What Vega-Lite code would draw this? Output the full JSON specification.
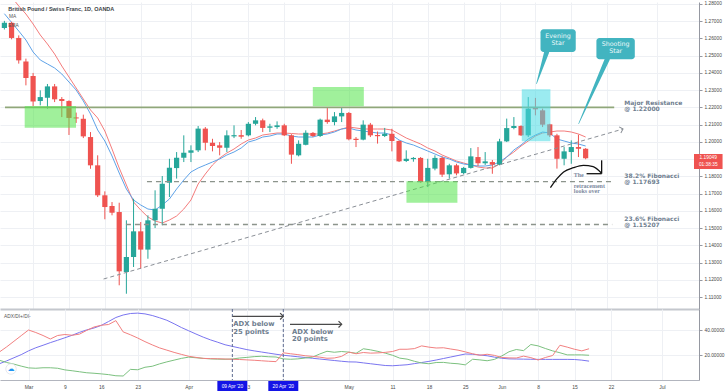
{
"$schema": "https://vega.github.io/schema/vega-lite/v6.json",
"padding": 0,
"background": "white",
"spacing": 0,
"bounds": "flush",
"config": {"view": {"stroke": null}, "font": "Liberation Sans", "axis": {"labelOverlap": false, "labelFlush": false, "labelBound": false}},
"datasets": {
"candles": [
{"d":-4,"o":1.2661,"h":1.2702,"l":1.2652,"c":1.2691,"ma":1.28928,"ema":1.27437,"adx":13.0,"dip":15.8,"dim":22.4},
{"d":-3,"o":1.2691,"h":1.2697,"l":1.2595,"c":1.2603,"ma":1.28406,"ema":1.26932,"adx":15.3,"dip":14.0,"dim":26.5},
{"d":-2,"o":1.2603,"h":1.2618,"l":1.2454,"c":1.2473,"ma":1.27884,"ema":1.26433,"adx":17.8,"dip":12.7,"dim":31.0},
{"d":-1,"o":1.2467,"h":1.2483,"l":1.2328,"c":1.2371,"ma":1.2742,"ema":1.25911,"adx":20.3,"dip":11.1,"dim":35.5},
{"d":0,"o":1.2382,"h":1.24,"l":1.2208,"c":1.2235,"ma":1.2684,"ema":1.25215,"adx":23.3,"dip":9.7,"dim":40.0},
{"d":1,"o":1.2237,"h":1.2299,"l":1.2212,"c":1.226,"ma":1.26201,"ema":1.24751,"adx":25.8,"dip":9.4,"dim":38.0},
{"d":2,"o":1.2256,"h":1.2336,"l":1.2193,"c":1.2322,"ma":1.25679,"ema":1.24519,"adx":27.8,"dip":9.8,"dim":35.6},
{"d":3,"o":1.2322,"h":1.2336,"l":1.2231,"c":1.2247,"ma":1.25099,"ema":1.24286,"adx":29.9,"dip":9.8,"dim":32.8},
{"d":4,"o":1.2249,"h":1.226,"l":1.2144,"c":1.2237,"ma":1.24403,"ema":1.23938,"adx":31.8,"dip":9.4,"dim":35.6},
{"d":5,"o":1.2237,"h":1.2241,"l":1.204,"c":1.2139,"ma":1.23764,"ema":1.23474,"adx":33.8,"dip":8.1,"dim":36.4},
{"d":6,"o":1.2142,"h":1.217,"l":1.211,"c":1.2136,"ma":1.23126,"ema":1.2301,"adx":35.8,"dip":7.4,"dim":35.8},
{"d":7,"o":1.2134,"h":1.2158,"l":1.2022,"c":1.2032,"ma":1.22488,"ema":1.22372,"adx":38.1,"dip":6.6,"dim":36.7},
{"d":8,"o":1.2028,"h":1.2057,"l":1.1844,"c":1.1864,"ma":1.2185,"ema":1.21618,"adx":40.1,"dip":5.8,"dim":39.7},
{"d":9,"o":1.1864,"h":1.1922,"l":1.168,"c":1.169,"ma":1.21385,"ema":1.20689,"adx":41.6,"dip":5.4,"dim":42.4},
{"d":10,"o":1.169,"h":1.1713,"l":1.1551,"c":1.1622,"ma":1.20631,"ema":1.20051,"adx":43.7,"dip":4.9,"dim":43.8},
{"d":11,"o":1.1628,"h":1.1651,"l":1.1574,"c":1.1589,"ma":1.19587,"ema":1.19181,"adx":46.8,"dip":4.3,"dim":44.4},
{"d":12,"o":1.1593,"h":1.1647,"l":1.1168,"c":1.1249,"ma":1.18484,"ema":1.18194,"adx":50.0,"dip":3.4,"dim":47.5},
{"d":13,"o":1.1245,"h":1.1545,"l":1.1119,"c":1.1332,"ma":1.17498,"ema":1.17266,"adx":52.0,"dip":3.2,"dim":38.5},
{"d":14,"o":1.1332,"h":1.167,"l":1.1274,"c":1.1481,"ma":1.16512,"ema":1.16628,"adx":53.2,"dip":8.5,"dim":36.2},
{"d":15,"o":1.1481,"h":1.1535,"l":1.1264,"c":1.1375,"ma":1.16047,"ema":1.16338,"adx":53.5,"dip":8.2,"dim":33.6},
{"d":16,"o":1.1375,"h":1.1574,"l":1.1322,"c":1.1545,"ma":1.15641,"ema":1.16105,"adx":52.9,"dip":10.2,"dim":30.7},
{"d":17,"o":1.1545,"h":1.1719,"l":1.15,"c":1.1612,"ma":1.15409,"ema":1.16047,"adx":51.6,"dip":11.0,"dim":28.1},
{"d":18,"o":1.1612,"h":1.1802,"l":1.1516,"c":1.1757,"ma":1.15293,"ema":1.16338,"adx":49.8,"dip":12.9,"dim":25.7},
{"d":19,"o":1.1763,"h":1.1902,"l":1.168,"c":1.185,"ma":1.15467,"ema":1.16686,"adx":47.8,"dip":14.5,"dim":23.9},
{"d":20,"o":1.1848,"h":1.1941,"l":1.1787,"c":1.1908,"ma":1.15699,"ema":1.17266,"adx":45.0,"dip":15.9,"dim":22.1},
{"d":21,"o":1.1908,"h":1.2038,"l":1.1883,"c":1.1937,"ma":1.16105,"ema":1.17788,"adx":42.0,"dip":17.3,"dim":20.5},
{"d":22,"o":1.1937,"h":1.198,"l":1.1883,"c":1.1951,"ma":1.16628,"ema":1.18252,"adx":39.4,"dip":18.3,"dim":19.0},
{"d":23,"o":1.1951,"h":1.2092,"l":1.1941,"c":1.2077,"ma":1.17556,"ema":1.18484,"adx":36.8,"dip":17.8,"dim":18.1},
{"d":24,"o":1.2077,"h":1.2086,"l":1.1951,"c":1.1995,"ma":1.18136,"ema":1.18658,"adx":34.3,"dip":17.3,"dim":17.3},
{"d":25,"o":1.1995,"h":1.2018,"l":1.1945,"c":1.1976,"ma":1.18658,"ema":1.18833,"adx":32.1,"dip":16.9,"dim":17.1},
{"d":26,"o":1.198,"h":1.1999,"l":1.1922,"c":1.1966,"ma":1.19065,"ema":1.19007,"adx":30.2,"dip":16.7,"dim":17.0},
{"d":27,"o":1.1966,"h":1.2067,"l":1.1941,"c":1.2038,"ma":1.19355,"ema":1.19239,"adx":28.2,"dip":16.6,"dim":16.8},
{"d":28,"o":1.2032,"h":1.2096,"l":1.2022,"c":1.2039,"ma":1.19587,"ema":1.19413,"adx":26.9,"dip":16.8,"dim":16.6},
{"d":29,"o":1.2039,"h":1.2069,"l":1.2018,"c":1.203,"ma":1.19877,"ema":1.19645,"adx":25.6,"dip":17.6,"dim":16.4},
{"d":30,"o":1.2038,"h":1.2115,"l":1.2032,"c":1.2105,"ma":1.20109,"ema":1.19993,"adx":24.3,"dip":18.1,"dim":16.1},
{"d":31,"o":1.2105,"h":1.2144,"l":1.2096,"c":1.2125,"ma":1.20225,"ema":1.20109,"adx":23.3,"dip":18.7,"dim":15.8},
{"d":32,"o":1.2125,"h":1.2135,"l":1.2057,"c":1.2081,"ma":1.20399,"ema":1.20283,"adx":22.4,"dip":19.0,"dim":15.4},
{"d":33,"o":1.2082,"h":1.2105,"l":1.2057,"c":1.209,"ma":1.20457,"ema":1.20341,"adx":21.5,"dip":18.6,"dim":15.0},
{"d":34,"o":1.2086,"h":1.2119,"l":1.2076,"c":1.2096,"ma":1.20515,"ema":1.20457,"adx":20.6,"dip":18.4,"dim":14.7},
{"d":35,"o":1.2096,"h":1.2105,"l":1.2034,"c":1.2038,"ma":1.20515,"ema":1.20457,"adx":19.8,"dip":16.9,"dim":21.8},
{"d":36,"o":1.2038,"h":1.2045,"l":1.1873,"c":1.1926,"ma":1.20486,"ema":1.20341,"adx":19.2,"dip":16.6,"dim":21.0},
{"d":37,"o":1.1922,"h":1.2009,"l":1.1916,"c":1.1989,"ma":1.20457,"ema":1.20283,"adx":18.6,"dip":16.9,"dim":20.3},
{"d":38,"o":1.1983,"h":1.2067,"l":1.198,"c":1.2053,"ma":1.20457,"ema":1.20283,"adx":18.0,"dip":17.6,"dim":19.4},
{"d":39,"o":1.2052,"h":1.2057,"l":1.2028,"c":1.2034,"ma":1.20457,"ema":1.20283,"adx":17.4,"dip":18.3,"dim":18.9},
{"d":40,"o":1.2034,"h":1.2135,"l":1.2028,"c":1.2129,"ma":1.20457,"ema":1.20399,"adx":16.8,"dip":20.8,"dim":18.3},
{"d":41,"o":1.2129,"h":1.2202,"l":1.2105,"c":1.2115,"ma":1.20515,"ema":1.20457,"adx":16.2,"dip":23.0,"dim":17.4},
{"d":42,"o":1.2115,"h":1.2173,"l":1.2096,"c":1.2148,"ma":1.20631,"ema":1.20573,"adx":15.6,"dip":22.2,"dim":17.6},
{"d":43,"o":1.2148,"h":1.2202,"l":1.2115,"c":1.2168,"ma":1.20747,"ema":1.20747,"adx":15.0,"dip":22.8,"dim":18.9},
{"d":44,"o":1.2168,"h":1.2173,"l":1.2009,"c":1.2015,"ma":1.20863,"ema":1.20805,"adx":14.5,"dip":22.3,"dim":22.3},
{"d":45,"o":1.2018,"h":1.2028,"l":1.197,"c":1.2011,"ma":1.20805,"ema":1.20689,"adx":14.4,"dip":21.4,"dim":21.0},
{"d":46,"o":1.2013,"h":1.2125,"l":1.2009,"c":1.21,"ma":1.20747,"ema":1.20631,"adx":13.7,"dip":25.0,"dim":22.0},
{"d":47,"o":1.21,"h":1.211,"l":1.2028,"c":1.2038,"ma":1.20747,"ema":1.20573,"adx":13.0,"dip":24.1,"dim":21.5},
{"d":48,"o":1.204,"h":1.206,"l":1.199,"c":1.2033,"ma":1.20747,"ema":1.20515,"adx":12.3,"dip":22.9,"dim":21.7},
{"d":49,"o":1.2034,"h":1.2081,"l":1.2028,"c":1.2047,"ma":1.20747,"ema":1.20515,"adx":11.6,"dip":21.5,"dim":22.1},
{"d":50,"o":1.2047,"h":1.2076,"l":1.1945,"c":1.2005,"ma":1.20689,"ema":1.20399,"adx":11.4,"dip":19.8,"dim":22.8},
{"d":51,"o":1.2005,"h":1.2009,"l":1.1883,"c":1.1887,"ma":1.20457,"ema":1.20109,"adx":11.8,"dip":17.5,"dim":24.6},
{"d":52,"o":1.1889,"h":1.1951,"l":1.1883,"c":1.1902,"ma":1.20225,"ema":1.19935,"adx":12.2,"dip":16.7,"dim":24.6},
{"d":53,"o":1.19,"h":1.1912,"l":1.1885,"c":1.1907,"ma":1.20051,"ema":1.19819,"adx":13.1,"dip":15.0,"dim":25.1},
{"d":54,"o":1.1907,"h":1.1912,"l":1.1763,"c":1.1767,"ma":1.19877,"ema":1.19645,"adx":14.0,"dip":13.6,"dim":27.3},
{"d":55,"o":1.1767,"h":1.1902,"l":1.1738,"c":1.1849,"ma":1.19645,"ema":1.19471,"adx":14.9,"dip":13.0,"dim":26.3},
{"d":56,"o":1.1845,"h":1.1922,"l":1.1835,"c":1.1907,"ma":1.19471,"ema":1.19297,"adx":16.0,"dip":14.0,"dim":25.6},
{"d":57,"o":1.1907,"h":1.1916,"l":1.1796,"c":1.181,"ma":1.19239,"ema":1.19123,"adx":17.2,"dip":14.1,"dim":25.8},
{"d":58,"o":1.1812,"h":1.1873,"l":1.1787,"c":1.1864,"ma":1.19065,"ema":1.19007,"adx":18.4,"dip":13.4,"dim":24.8},
{"d":59,"o":1.1864,"h":1.1873,"l":1.1806,"c":1.1817,"ma":1.18891,"ema":1.18833,"adx":19.6,"dip":13.0,"dim":23.9},
{"d":60,"o":1.1819,"h":1.1855,"l":1.1812,"c":1.1849,"ma":1.18774,"ema":1.18716,"adx":20.8,"dip":12.1,"dim":22.5},
{"d":61,"o":1.1849,"h":1.1964,"l":1.1845,"c":1.1916,"ma":1.18658,"ema":1.18658,"adx":20.6,"dip":16.6,"dim":21.0},
{"d":62,"o":1.1912,"h":1.197,"l":1.186,"c":1.1876,"ma":1.18542,"ema":1.186,"adx":20.0,"dip":16.1,"dim":19.8},
{"d":63,"o":1.1876,"h":1.1941,"l":1.1866,"c":1.1887,"ma":1.18484,"ema":1.186,"adx":19.4,"dip":15.4,"dim":20.6},
{"d":64,"o":1.1883,"h":1.1895,"l":1.1815,"c":1.1868,"ma":1.18484,"ema":1.18658,"adx":18.3,"dip":16.5,"dim":19.7},
{"d":65,"o":1.1868,"h":1.2018,"l":1.1864,"c":1.2003,"ma":1.18716,"ema":1.18833,"adx":17.4,"dip":19.2,"dim":18.0},
{"d":66,"o":1.2003,"h":1.2135,"l":1.1999,"c":1.208,"ma":1.19123,"ema":1.19123,"adx":16.9,"dip":22.6,"dim":17.7},
{"d":67,"o":1.208,"h":1.2144,"l":1.2073,"c":1.2092,"ma":1.19413,"ema":1.19529,"adx":16.8,"dip":24.4,"dim":17.6},
{"d":68,"o":1.2092,"h":1.2096,"l":1.2034,"c":1.2038,"ma":1.19761,"ema":1.19819,"adx":16.7,"dip":23.5,"dim":19.1},
{"d":69,"o":1.2038,"h":1.226,"l":1.2028,"c":1.2193,"ma":1.20051,"ema":1.20167,"adx":16.6,"dip":28.4,"dim":17.9},
{"d":70,"o":1.2197,"h":1.2255,"l":1.2154,"c":1.2189,"ma":1.20341,"ema":1.20399,"adx":16.5,"dip":27.3,"dim":16.0},
{"d":71,"o":1.2183,"h":1.2193,"l":1.2086,"c":1.21,"ma":1.20515,"ema":1.20573,"adx":16.5,"dip":25.2,"dim":18.0},
{"d":72,"o":1.2102,"h":1.2105,"l":1.2028,"c":1.2038,"ma":1.20573,"ema":1.20515,"adx":16.5,"dip":23.3,"dim":19.6},
{"d":73,"o":1.2038,"h":1.2047,"l":1.1845,"c":1.1902,"ma":1.20631,"ema":1.20167,"adx":16.5,"dip":21.8,"dim":27.8},
{"d":74,"o":1.1902,"h":1.197,"l":1.1864,"c":1.1945,"ma":1.20631,"ema":1.20051,"adx":16.5,"dip":20.1,"dim":26.3},
{"d":75,"o":1.1941,"h":1.2009,"l":1.1873,"c":1.197,"ma":1.20573,"ema":1.19935,"adx":16.4,"dip":20.1,"dim":24.6},
{"d":76,"o":1.197,"h":1.2042,"l":1.1912,"c":1.196,"ma":1.20457,"ema":1.19877,"adx":15.9,"dip":20.1,"dim":23.3},
{"d":77,"o":1.196,"h":1.1964,"l":1.1899,"c":1.1905,"ma":1.20283,"ema":1.19761,"adx":15.1,"dip":19.8,"dim":25.0}
],
"resist": [{"d":-3.915,"d2":80.98,"p":1.22}],
"fibs": [{"d":15.87,"d2":80.7,"p":1.17693},{"d":12.94,"d2":80.7,"p":1.15207}],
"trend": [{"d":9.82,"p":1.12044,"d2":82.21,"p2":1.20747}],
"trendhead": [{"d":82.21,"p":1.20747}],
"boxes": [
{"d":-1.17,"d2":5.98,"p":1.22082,"p2":1.20823,"kind":"green"},
{"d":38.98,"d2":46.09,"p":1.23184,"p2":1.22064,"kind":"green"},
{"d":52.03,"d2":59.13,"p":1.17713,"p2":1.16471,"kind":"green"},
{"d":68.1,"d2":72.09,"p":1.23051,"p2":1.20034,"kind":"cyan"}
],
"tails": [
{"id":"ev","part":"base","d":71.57,"p":1.25215},
{"id":"ev","part":"tip","d":70.16,"p":1.23376},
{"id":"sh","part":"base","d":80.01,"p":1.24791},
{"id":"sh","part":"tip","d":76.03,"p":1.21055}
],
"callouts": [{"d":70.71,"d2":75.62,"p":1.26532,"p2":1.25215},{"d":78.5,"d2":83.85,"p":1.26027,"p2":1.24791}],
"callouttext": [{"d":73.15,"p":1.26294,"t":"Evening\nStar"},{"d":81.18,"p":1.2583,"t":"Shooting\nStar"}],
"levels": [
{"d":82.39,"p":1.22442,"t":"Major Resistance\n@ 1.22000"},
{"d":82.39,"p":1.18189,"t":"38.2% Fibonacci\n@ 1.17693"},
{"d":82.39,"p":1.15711,"t":"23.6% Fibonacci\n@ 1.15207"}
],
"curve": [{"d":72.09,"p":1.17341},{"d":73.01,"p":1.17864},{"d":73.93,"p":1.18253},{"d":75.3,"p":1.18502},{"d":76.68,"p":1.18641},{"d":78.05,"p":1.18571},{"d":79.19,"p":1.18194}],
"curvehead": [{"d":79.23,"p":1.18931,"d2":79.23,"p2":1.18154},{"d":77.13,"p":1.18154,"d2":79.23,"p2":1.18154}],
"rettext": [{"d":75.34,"p":1.18275,"t":"The"},{"d":75.34,"p":1.17615,"t":"retracement\nlooks over"}],
"title": [{"d":-3.46,"p":1.27692,"t":"British Pound / Swiss Franc, 1D, OANDA"}],
"legend": [{"d":-3.37,"p":1.27263,"t":"MA"},{"d":-3.46,"p":1.26741,"t":"EMA"}],
"pricetag": [{"d":92.1,"d2":96.08,"p":1.19297,"p2":1.18426}],
"pricetagtext": [{"d":94.09,"p":1.19036,"t":"1.19049"},{"d":94.09,"p":1.18659,"t":"01:38:35"}],
"vlines": [{"d":28},{"d":35}],
"arrows": [{"d":28,"d2":35,"v":50.96},{"d":35.92,"d2":43.02,"v":44.56}],
"arrowheads": [{"d":35,"v":50.96},{"d":43.02,"v":44.56}],
"adxtext": [{"d":28.13,"v":46.96,"t":"ADX below\n25 points"},{"d":36.2,"v":41.1,"t":"ADX below\n20 points"}],
"adxlabel": [{"d":-3.36,"v":50.4,"t":"ADX/DI+/DI-"}],
"cloud": [{"d":-2.4,"v":8.8,"t":"☁"}],
"tags": [{"d":25.94,"d2":30.06,"c":28,"v":-0.8,"v2":-9.6,"vm":-5.2,"t":"09 Apr '20"},{"d":32.94,"d2":37.06,"c":35,"v":-0.8,"v2":-9.6,"vm":-5.2,"t":"20 Apr '20"}]
},
"vconcat": [
{
"width": 699, "height": 307,
"layer": [
{"data":{"name":"candles"},"mark":{"type":"line","clip":true,"color":"#f47c7c","strokeWidth":1},
 "encoding":{
  "x":{"field":"d","type":"quantitative","title":null,"scale":{"domain":[-3.915,92.1],"nice":false,"zero":false},
   "axis":{"orient":"bottom","values":[0,5,10,15,22,30,35,44,50,55,60,65,70,75,80,87],"tickCount":40,"labels":false,"ticks":false,"title":null,"grid":true,"gridColor":"#eef0f4","domain":true,"domainColor":"#c4c7cd","domainWidth":2}},
  "y":{"field":"ma","type":"quantitative","title":null,"scale":{"domain":[1.10304,1.28116],"nice":false,"zero":false},
   "axis":{"orient":"right","values":[1.11,1.12,1.13,1.14,1.15,1.16,1.17,1.18,1.19,1.2,1.21,1.22,1.23,1.24,1.25,1.26,1.27,1.28],"tickCount":40,"labelExpr":"abs(datum.value - 1.19) < 0.001 ? '' : format(datum.value, '.5f')","title":null,"grid":true,"gridColor":"#eef0f4","tickSize":3,"tickColor":"#9598a1","domainColor":"#9598a1","labelFontSize":4.8,"labelColor":"#4a4a4a","labelPadding":2,"labelOverlap":false,"labelFlush":false,"labelBound":false,"labelSeparation":0}}
 }},
{"data":{"name":"candles"},"mark":{"type":"line","clip":true,"color":"#5fa3e8","strokeWidth":1},
 "encoding":{"x":{"field":"d","type":"quantitative","title":null},
  "y":{"field":"ema","type":"quantitative","title":null}}},
{"data":{"name":"candles"},"mark":{"type":"rule","clip":true,"strokeWidth":1},
 "encoding":{"x":{"field":"d","type":"quantitative","title":null},
  "y":{"field":"l","type":"quantitative","title":null},
  "y2":{"field":"h"},
  "color":{"condition":{"test":"datum.c >= datum.o","value":"#26a69a"},"value":"#ef5350"}}},
{"data":{"name":"candles"},"mark":{"type":"bar","clip":true,"size":5.2},
 "encoding":{"x":{"field":"d","type":"quantitative","title":null},
  "y":{"field":"o","type":"quantitative","title":null},
  "y2":{"field":"c"},
  "color":{"condition":{"test":"datum.c >= datum.o","value":"#26a69a"},"value":"#ef5350"}}},
{"data":{"name":"resist"},"mark":{"type":"rule","color":"#90a77a","strokeWidth":1.6},
 "encoding":{"x":{"field":"d","type":"quantitative","title":null},"x2":{"field":"d2"},
  "y":{"field":"p","type":"quantitative","title":null}}},
{"data":{"name":"fibs"},"mark":{"type":"rule","color":"#8c948c","strokeWidth":1.3,"strokeDash":[5,4]},
 "encoding":{"x":{"field":"d","type":"quantitative","title":null},"x2":{"field":"d2"},
  "y":{"field":"p","type":"quantitative","title":null}}},
{"data":{"name":"trend"},"mark":{"type":"rule","color":"#8a8f96","strokeWidth":1,"strokeDash":[4,3]},
 "encoding":{"x":{"field":"d","type":"quantitative","title":null},"x2":{"field":"d2"},
  "y":{"field":"p","type":"quantitative","title":null},"y2":{"field":"p2"}}},
{"data":{"name":"trendhead"},"mark":{"type":"point","shape":"M-1,-1L0,0L-1,1","filled":false,"stroke":"#8a8f96","strokeWidth":1,"size":40,"angle":-16,"opacity":1},
 "encoding":{"x":{"field":"d","type":"quantitative","title":null},
  "y":{"field":"p","type":"quantitative","title":null}}},
{"data":{"name":"boxes"},"mark":{"type":"rect","opacity":0.55},
 "encoding":{"x":{"field":"d","type":"quantitative","title":null},"x2":{"field":"d2"},
  "y":{"field":"p","type":"quantitative","title":null},"y2":{"field":"p2"},
  "color":{"field":"kind","type":"nominal","scale":{"domain":["green","cyan"],"range":["#52e449","#49dae4"]},"legend":null}}},
{"data":{"name":"tails"},"mark":{"type":"trail","color":"#42b4c0"},
 "encoding":{"x":{"field":"d","type":"quantitative","title":null},
  "y":{"field":"p","type":"quantitative","title":null},
  "detail":{"field":"id"},
  "size":{"field":"part","type":"ordinal","scale":{"type":"ordinal","domain":["base","tip"],"range":[5,0.6]},"legend":null}}},
{"data":{"name":"callouts"},"mark":{"type":"rect","color":"#42b4c0","cornerRadius":3},
 "encoding":{"x":{"field":"d","type":"quantitative","title":null},"x2":{"field":"d2"},
  "y":{"field":"p","type":"quantitative","title":null},"y2":{"field":"p2"}}},
{"data":{"name":"callouttext"},"mark":{"type":"text","font":"DejaVu Sans","fontSize":6.3,"color":"#eef9fa","align":"center","baseline":"top","lineBreak":"\n","lineHeight":6.6},
 "encoding":{"x":{"field":"d","type":"quantitative","title":null},
  "y":{"field":"p","type":"quantitative","title":null},"text":{"field":"t"}}},
{"data":{"name":"levels"},"mark":{"type":"text","font":"DejaVu Sans","fontWeight":"bold","fontSize":6,"color":"#6f7e8f","align":"left","baseline":"top","lineBreak":"\n","lineHeight":6.2},
 "encoding":{"x":{"field":"d","type":"quantitative","title":null},
  "y":{"field":"p","type":"quantitative","title":null},"text":{"field":"t"}}},
{"data":{"name":"curve"},"mark":{"type":"line","color":"#111111","strokeWidth":1.3,"interpolate":"monotone"},
 "encoding":{"x":{"field":"d","type":"quantitative","title":null},
  "y":{"field":"p","type":"quantitative","title":null}}},
{"data":{"name":"curvehead"},"mark":{"type":"rule","color":"#111111","strokeWidth":1.3},
 "encoding":{"x":{"field":"d","type":"quantitative","title":null},"x2":{"field":"d2"},
  "y":{"field":"p","type":"quantitative","title":null},"y2":{"field":"p2"}}},
{"data":{"name":"rettext"},"mark":{"type":"text","font":"Liberation Serif","fontWeight":"bold","fontSize":6,"color":"#7d8aa0","align":"left","baseline":"top","lineBreak":"\n","lineHeight":5.4},
 "encoding":{"x":{"field":"d","type":"quantitative","title":null},
  "y":{"field":"p","type":"quantitative","title":null},"text":{"field":"t"}}},
{"data":{"name":"title"},"mark":{"type":"text","font":"Liberation Sans","fontWeight":"bold","fontSize":5.5,"color":"#3c3f47","align":"left","baseline":"middle"},
 "encoding":{"x":{"field":"d","type":"quantitative","title":null},
  "y":{"field":"p","type":"quantitative","title":null},"text":{"field":"t"}}},
{"data":{"name":"legend"},"mark":{"type":"text","font":"Liberation Sans","fontSize":4.8,"color":"#555555","align":"left","baseline":"middle"},
 "encoding":{"x":{"field":"d","type":"quantitative","title":null},
  "y":{"field":"p","type":"quantitative","title":null},"text":{"field":"t"}}},
{"data":{"name":"pricetag"},"mark":{"type":"rect","color":"#ef5350"},
 "encoding":{"x":{"field":"d","type":"quantitative","title":null},"x2":{"field":"d2"},
  "y":{"field":"p","type":"quantitative","title":null},"y2":{"field":"p2"}}},
{"data":{"name":"pricetagtext"},"mark":{"type":"text","font":"Liberation Sans","fontSize":4.8,"color":"#ffffff","align":"center","baseline":"middle"},
 "encoding":{"x":{"field":"d","type":"quantitative","title":null},
  "y":{"field":"p","type":"quantitative","title":null},"text":{"field":"t"}}}
]
},
{
"width": 699, "height": 71,
"layer": [
{"data":{"name":"candles"},"mark":{"type":"line","clip":true,"color":"#7a75f0","strokeWidth":1},
 "encoding":{
  "x":{"field":"d","type":"quantitative","title":null,"scale":{"domain":[-3.915,92.1],"nice":false,"zero":false},
   "axis":{"orient":"bottom","values":[0,5,10,15,22,30,35,44,50,55,60,65,70,75,80,87],"tickCount":40,
    "labelExpr":"['Mar','9','16','23','Apr','13','','May','11','18','25','Jun','8','15','22','Jul'][indexof([0,5,10,15,22,30,35,44,50,55,60,65,70,75,80,87], datum.value)]",
    "title":null,"grid":true,"gridColor":"#eef0f4","domainColor":"#b2b5be","tickSize":0,"labelPadding":4,"labelFontSize":5,"labelColor":"#4a4a4a","labelOverlap":false,"labelFlush":false}},
  "y":{"field":"adx","type":"quantitative","title":null,"scale":{"domain":[0,56.8],"nice":false,"zero":false},
   "axis":{"orient":"right","values":[20,40],"format":".5f","title":null,"grid":true,"gridColor":"#eef0f4","tickSize":3,"tickColor":"#9598a1","domainColor":"#9598a1","labelFontSize":4.8,"labelColor":"#4a4a4a","labelPadding":2}}
 }},
{"data":{"name":"candles"},"mark":{"type":"line","clip":true,"color":"#7cc17f","strokeWidth":1},
 "encoding":{"x":{"field":"d","type":"quantitative","title":null},
  "y":{"field":"dip","type":"quantitative","title":null}}},
{"data":{"name":"candles"},"mark":{"type":"line","clip":true,"color":"#f28080","strokeWidth":1},
 "encoding":{"x":{"field":"d","type":"quantitative","title":null},
  "y":{"field":"dim","type":"quantitative","title":null}}},
{"data":{"name":"vlines"},"mark":{"type":"rule","color":"#5d6b8f","strokeWidth":1,"strokeDash":[3,2]},
 "encoding":{"x":{"field":"d","type":"quantitative","title":null}}},
{"data":{"name":"arrows"},"mark":{"type":"rule","color":"#4a4a4a","strokeWidth":1.2},
 "encoding":{"x":{"field":"d","type":"quantitative","title":null},"x2":{"field":"d2"},
  "y":{"field":"v","type":"quantitative","title":null}}},
{"data":{"name":"arrowheads"},"mark":{"type":"point","shape":"M-1,-1L0,0L-1,1","filled":false,"stroke":"#4a4a4a","strokeWidth":1.2,"size":40,"opacity":1},
 "encoding":{"x":{"field":"d","type":"quantitative","title":null},
  "y":{"field":"v","type":"quantitative","title":null}}},
{"data":{"name":"adxtext"},"mark":{"type":"text","font":"DejaVu Sans","fontWeight":"bold","fontSize":6.8,"color":"#6f7e8f","align":"left","baseline":"top","lineBreak":"\n","lineHeight":7.3},
 "encoding":{"x":{"field":"d","type":"quantitative","title":null},
  "y":{"field":"v","type":"quantitative","title":null},"text":{"field":"t"}}},
{"data":{"name":"adxlabel"},"mark":{"type":"text","font":"Liberation Sans","fontSize":4.8,"color":"#555555","align":"left","baseline":"middle"},
 "encoding":{"x":{"field":"d","type":"quantitative","title":null},
  "y":{"field":"v","type":"quantitative","title":null},"text":{"field":"t"}}},
{"data":{"name":"cloud"},"mark":{"type":"point","shape":"circle","filled":true,"color":"#ffffff","stroke":"#e0e3eb","strokeWidth":0.8,"size":110,"opacity":1},
 "encoding":{"x":{"field":"d","type":"quantitative","title":null},
  "y":{"field":"v","type":"quantitative","title":null}}},
{"data":{"name":"cloud"},"mark":{"type":"text","font":"DejaVu Sans","fontSize":7,"color":"#2196f3","align":"center","baseline":"middle"},
 "encoding":{"x":{"field":"d","type":"quantitative","title":null},
  "y":{"field":"v","type":"quantitative","title":null},"text":{"field":"t"}}},
{"data":{"name":"tags"},"mark":{"type":"rect","color":"#1414e6"},
 "encoding":{"x":{"field":"d","type":"quantitative","title":null},"x2":{"field":"d2"},
  "y":{"field":"v","type":"quantitative","title":null},"y2":{"field":"v2"}}},
{"data":{"name":"tags"},"mark":{"type":"text","font":"Liberation Sans","fontSize":4.8,"color":"#ffffff","align":"center","baseline":"middle"},
 "encoding":{"x":{"field":"c","type":"quantitative","title":null},
  "y":{"field":"vm","type":"quantitative","title":null},"text":{"field":"t"}}}
]
}
]
}
